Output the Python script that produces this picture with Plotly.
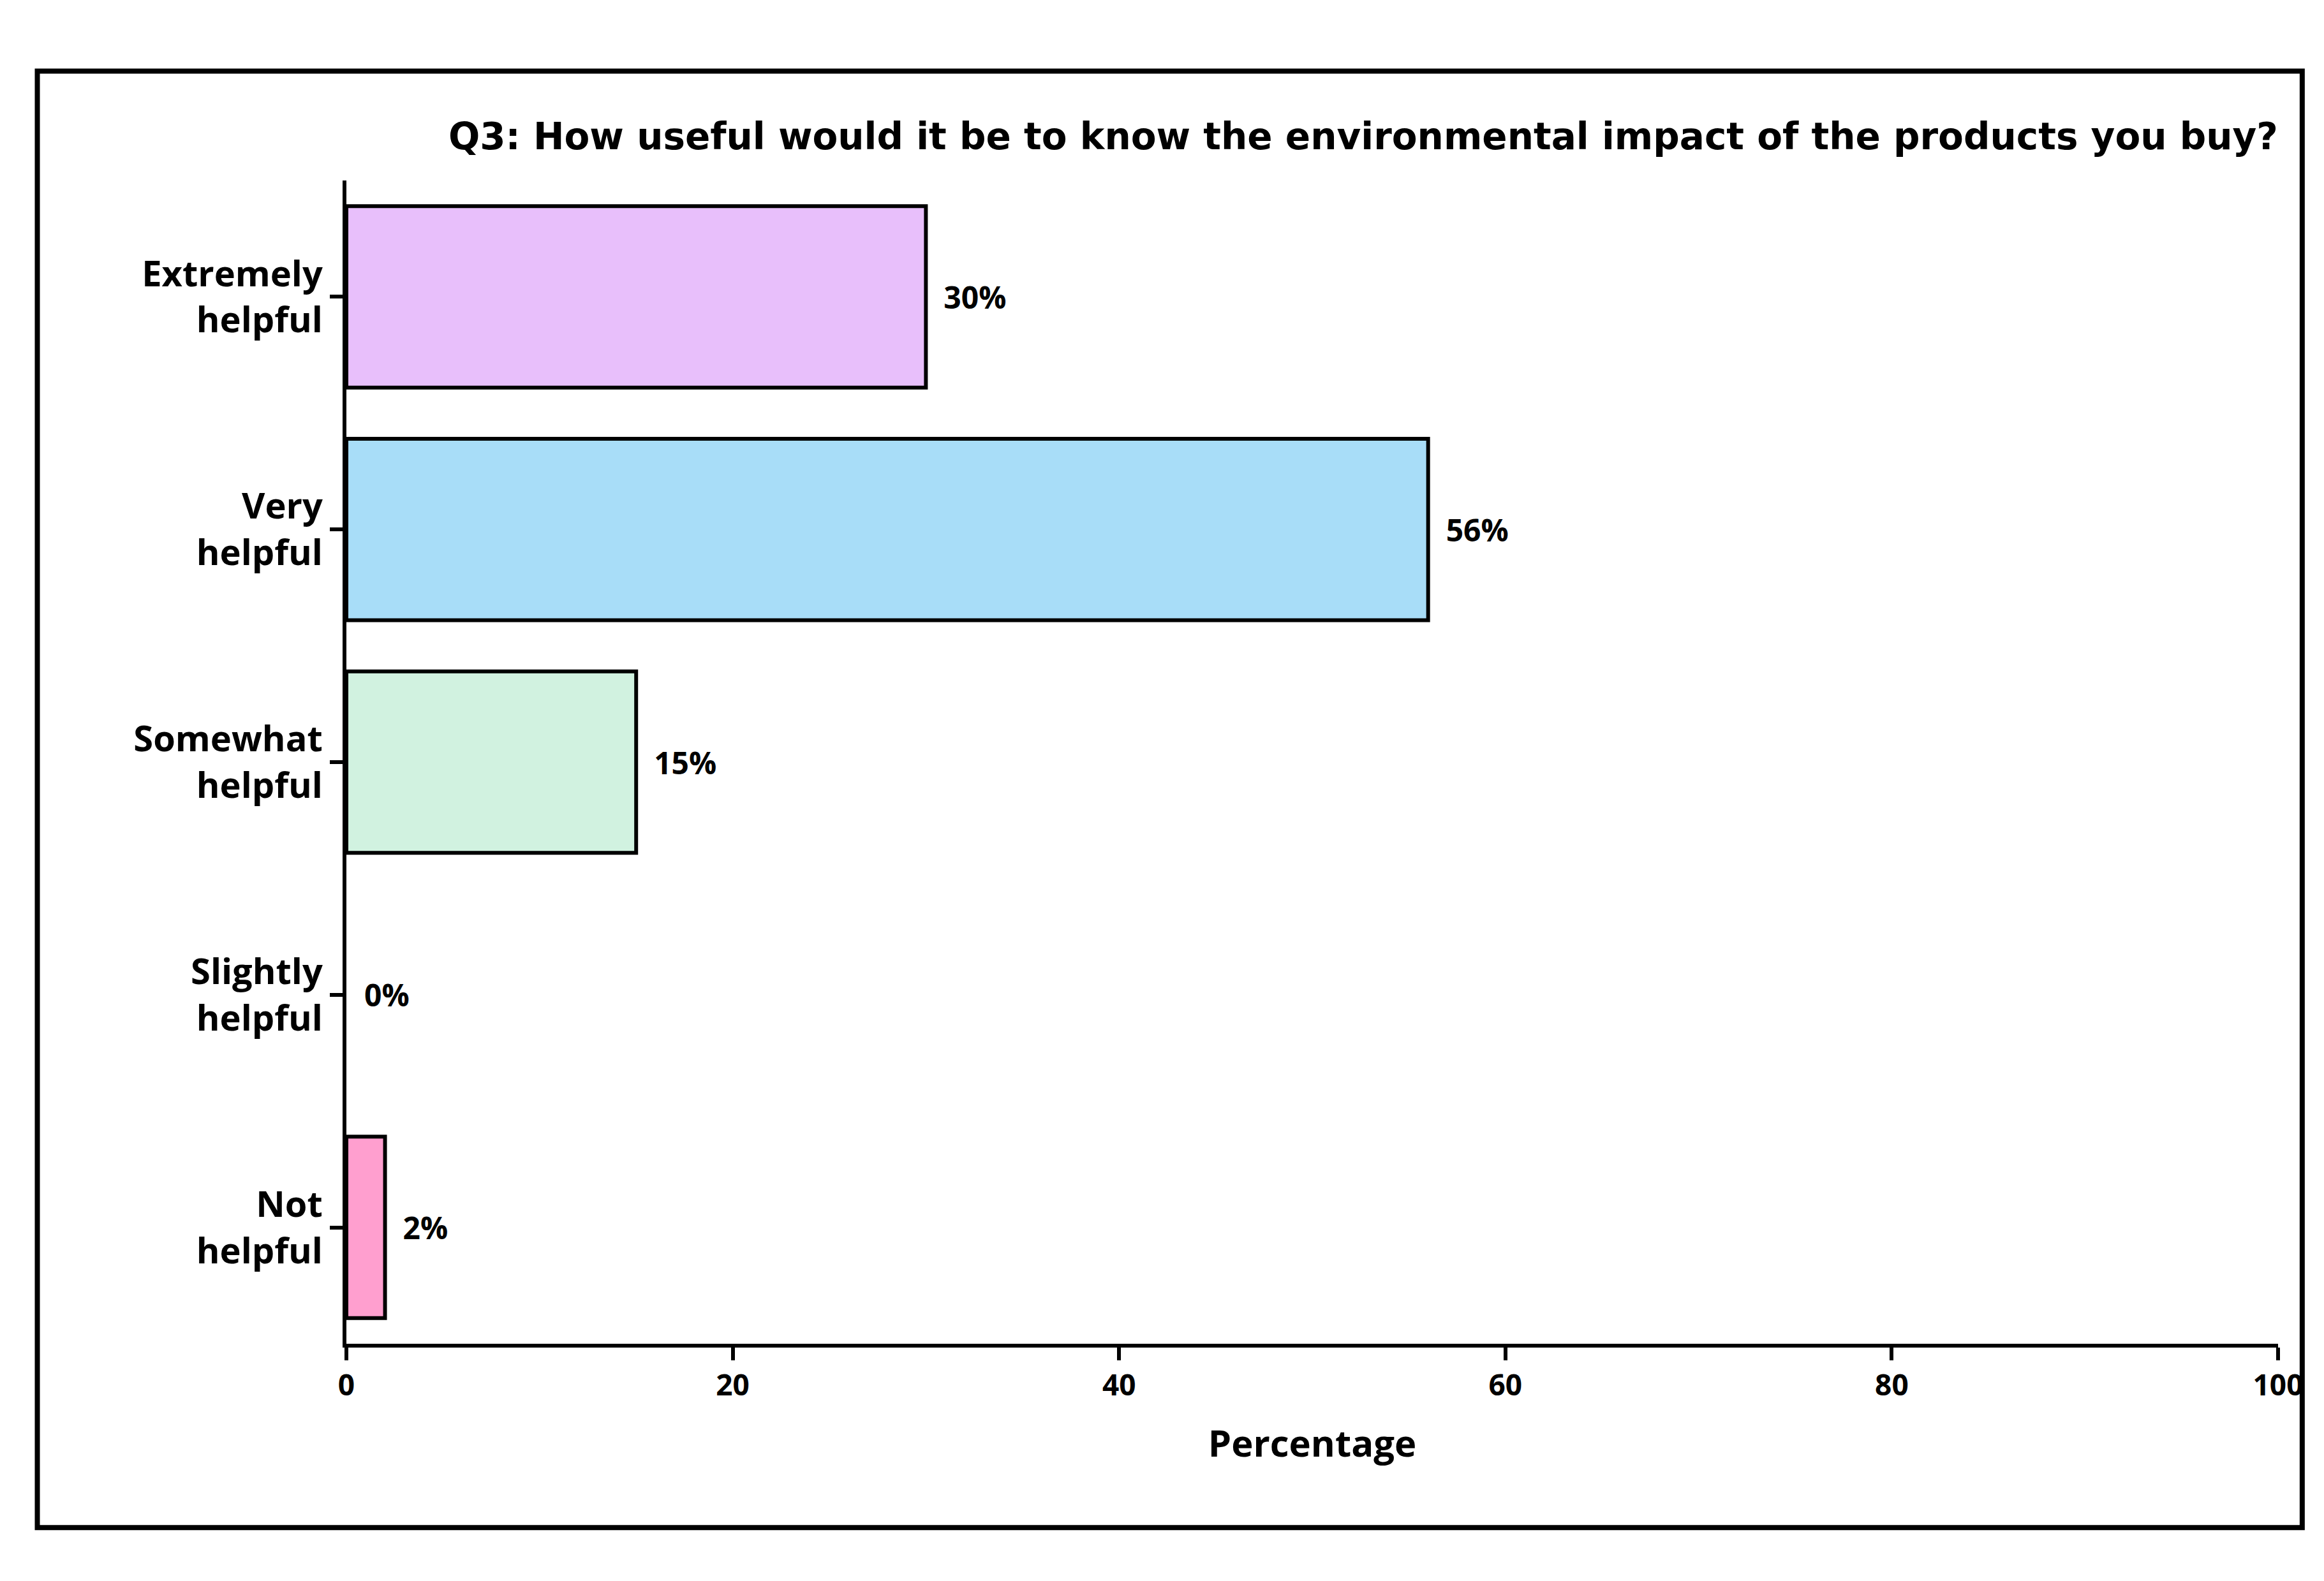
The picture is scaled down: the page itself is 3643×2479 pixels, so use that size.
import plotly.graph_objects as go

categories = ["Extremely<br>helpful", "Very<br>helpful", "Somewhat<br>helpful", "Slightly<br>helpful", "Not<br>helpful"]
values = [30, 56, 15, 0, 2]
labels = ["  30%", "  56%", "  15%", "  0%", "  2%"]
colors = ["#E8BFFB", "#A8DDF8", "#D1F2E0", "#FFE0A0", "#FF9FCF"]
line_widths = [6, 6, 6, 0, 6]

F = "Open Sans"
fig = go.Figure(go.Bar(
    y=categories, x=values, orientation="h", width=0.78,
    marker=dict(color=colors, line=dict(color="black", width=line_widths)),
    text=labels, textposition="outside",
    textfont=dict(family=F, size=48, color="black", weight="bold"),
    cliponaxis=False,
))
fig.update_layout(
    width=3643, height=2479, paper_bgcolor="white", plot_bgcolor="white",
    margin=dict(l=535, r=80, t=275, b=380),
    showlegend=False,
    title=dict(text="Q3: How useful would it be to know the environmental impact of the products you buy?",
               font=dict(family="DejaVu Sans", size=58, color="black", weight="bold"),
               xref="paper", x=1, xanchor="right", yref="container", y=0.917, yanchor="middle"),
    xaxis=dict(range=[0, 100], tickvals=[0, 20, 40, 60, 80, 100], showgrid=False, zeroline=False,
               showline=True, linecolor="black", linewidth=6, ticks="outside", ticklen=20,
               tickwidth=6, tickcolor="black",
               tickfont=dict(family=F, size=46, color="black", weight="bold"),
               title=dict(text="Percentage", font=dict(family=F, size=58, color="black", weight="bold"), standoff=45)),
    yaxis=dict(autorange="reversed", showgrid=False, zeroline=False, showline=True, linecolor="black",
               linewidth=6, ticks="outside", ticklen=20, tickwidth=6, tickcolor="black",
               tickfont=dict(family=F, size=56, color="black", weight="bold")),
    shapes=[dict(type="rect", xref="paper", yref="paper", x0=-0.16, x1=1.0125, y0=-0.158, y1=1.094,
                 line=dict(color="black", width=8))],
)
fig.write_html("out.html")
